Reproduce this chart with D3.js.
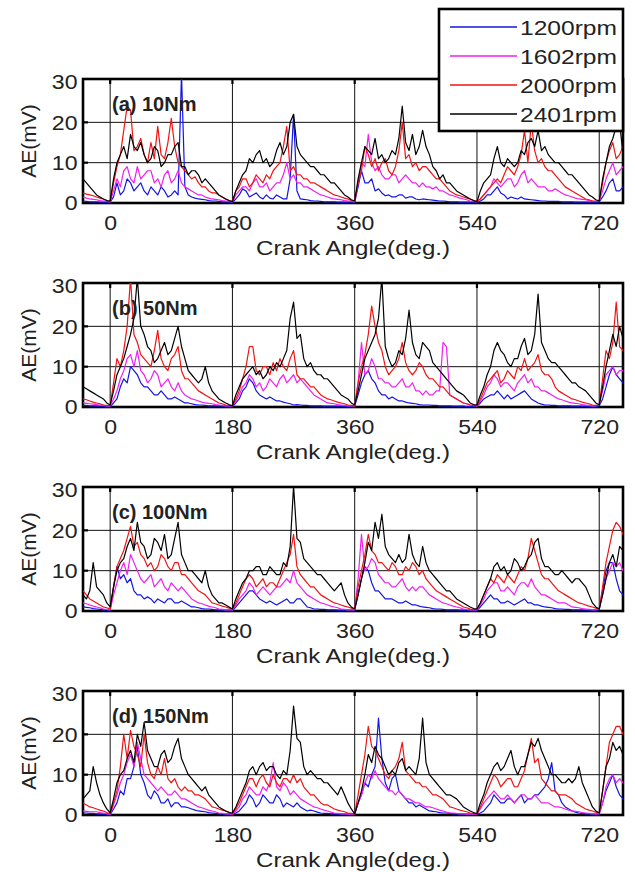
<!DOCTYPE html>
<html>
<head>
<meta charset="utf-8">
<script src="https://cdn.jsdelivr.net/npm/d3@7"></script>
<style>
  html, body { margin: 0; background: #fff; }
  svg { display: block; }
</style>
</head>
<body>
<svg id="chart" width="635" height="872"></svg>
<script>
'use strict';

/* ── data: AE amplitude (mV), sampled every 5 deg of crank angle ── */
const angles = [-40,-35,-30,-25,-20,-15,-10,-5,
  0,5,10,15,20,25,30,35,40,45,50,55,60,65,70,75,80,85,90,95,100,105,110,115,120,125,130,135,140,145,150,155,160,165,170,175,
  180,185,190,195,200,205,210,215,220,225,230,235,240,245,250,255,260,265,270,275,280,285,290,295,300,305,310,315,320,325,330,335,340,345,350,355,
  360,365,370,375,380,385,390,395,400,405,410,415,420,425,430,435,440,445,450,455,460,465,470,475,480,485,490,495,500,505,510,515,520,525,530,535,
  540,545,550,555,560,565,570,575,580,585,590,595,600,605,610,615,620,625,630,635,640,645,650,655,660,665,670,675,680,685,690,695,700,705,710,715,
  720,725,730,735,740,745,750,755,760];

const xTicks = [0, 180, 360, 540, 720];
const yTicks = [0, 10, 20, 30];
const panelLabels = ['(a) 10Nm', '(b) 50Nm', '(c) 100Nm', '(d) 150Nm'];
const speedLabels = ['1200rpm', '1602rpm', '2000rpm', '2401rpm'];

// (a) 10Nm
const a_1200 = [0.5,0.4,0.3,0.3,0.3,0.2,0.2,0.2,
  0.2,1.5,5,2,3,6,5,3,4,5,3,2,4,3,2,4,3,1.5,2,3,2,32,4,2,1.5,1.2,1,0.9,0.8,0.6,0.5,0.5,0.4,0.3,0.3,0.2,
  0.2,1,2,3.5,3,1.5,2,2.5,1.5,1,2,1.2,1,2,1.5,1,1,6,22,3,1,0.9,0.8,0.6,0.5,0.5,0.4,0.3,0.3,0.3,0.3,0.2,0.2,0.2,0.2,0.2,
  0.2,4,8,5,5,6,3,3.5,2.5,1.8,2,1.5,1.5,2,2,1.2,1.5,1.5,1,0.8,1,0.9,0.8,0.7,0.6,0.5,0.5,0.4,0.3,0.3,0.3,0.2,0.2,0.2,0.2,0.2,
  0.2,0.5,1,2,2,3,4,2.5,2,1,1.5,1.2,1,1.5,1,0.9,0.8,0.7,0.6,0.5,0.5,0.4,0.4,0.4,0.4,0.3,0.3,0.3,0.3,0.2,0.2,0.2,0.2,0.2,0.2,0.2,
  0.3,1.5,3,5,6,3,3,4,4];
const a_1602 = [1.5,1.2,1,0.9,0.8,0.6,0.5,0.4,
  0.3,3,6,4,8,9,6,5,9,6,7,8,8,5,6,4,7,8,5,6,8,5,4,3.5,3,2.5,2,2,1.5,1.2,1,0.9,0.8,0.6,0.5,0.4,
  0.3,2,3,4,4,3,5,6,4,4,5,3,4,5,5,7,10,6,7,5,5,4,4,3.5,3,2.5,2,1.8,1.5,1.2,1,0.9,0.8,0.6,0.5,0.4,
  0.3,5,10,9,17,10,8,9,7,6,6,7,7,5,6,7,6,5,5,4,5,4,4,3.5,4,3,3,2.5,2,1.8,1.5,1.2,1,0.8,0.5,0.4,
  0.3,1,2,3,4,6,5,4,5,6,6,4,5,7,8,5,6,5,4,4,4,3,3,3.5,3,2.5,2,1.8,1.5,1.2,1,0.9,0.8,0.6,0.5,0.4,
  0.5,3,6,8,10,7,8,9,9];
const a_2000 = [2.5,2.2,2,1.8,1.5,1.2,1,0.6,
  0.3,5,9,12,18,24,23,13,14,16,12,10,15,11,19,12,11,15,21,14,10,9,8,7,6,6.5,5,4,4,3,2.5,2.5,2,1.5,1,0.6,
  0.5,3,4,6,6,4,5,7,6,5,7,6,8,9,10,14,19,8,9,7,7,6,6,5,5,4.5,4,3.5,3,2.5,2,1.8,1.5,1.2,1,0.6,
  0.5,5,8,14,12,9,11,8,10,11,8,7,9,13,20,11,12,9,10,8,9,9,8,7,6,6,5,4,3,2.5,2,1.8,1.5,1.2,1,0.6,
  0.5,1,2,3,4,5,6,5,7,9,8,7,9,12,18,10,20,13,10,11,9,8,8,7,6,5,4,3.5,3,2.5,2,1.5,1,0.8,0.5,0.4,
  0.5,5,10,13,15,11,12,14,14];
const a_2401 = [6,5,4,3,2,1.5,1,0.6,
  0.5,6,10,12,14,11,17,14,13,15,12,10,11,14,13,9,10,12,12,14,15,9,9,7,8,8,7,5,6,5,4,3,2,1.5,1,0.6,
  0.3,3,5,7,8,11,10,12,13,10,11,9,10,13,15,12,14,20,22,14,12,11,10,9,9,8,7,7,6,5,5,4,3,2,1.5,0.8,
  0.5,6,10,14,13,12,16,11,12,10,11,13,12,16,24,15,13,17,12,14,18,14,12,9,8,6,7,5,5,4,3,2.5,2,1.5,1,0.6,
  0.3,3,5,6,7,11,14,10,9,11,10,9,10,13,12,15,16,14,18,13,14,12,11,10,10,9,8,7,7,6,5,4,3,2,1.5,0.8,
  0.5,6,10,14,16,19,20,12,18];

// (b) 50Nm
const b_1200 = [0.4,0.4,0.3,0.3,0.3,0.2,0.2,0.1,
  0.1,1,2,5,7,6,10,9,8,6,5,5,4,3,3,4,3,2,2,2.5,2,1.5,1,1,0.8,0.6,0.5,0.5,0.4,0.3,0.3,0.3,0.3,0.2,0.2,0.1,
  0.1,1,2,4,5,7,6,4,3,2.5,2,2.5,2,1.5,1.5,1.2,1,0.8,0.5,0.6,0.5,0.4,0.4,0.3,0.3,0.3,0.3,0.2,0.2,0.2,0.2,0.2,0.2,0.1,0.1,0.1,
  0.2,3,6,8,9,7,6,4,3,3,2,2.5,2,1.5,1.5,1.2,1,0.9,0.8,0.6,0.5,0.5,0.5,0.4,0.4,0.3,0.3,0.3,0.3,0.2,0.2,0.2,0.2,0.1,0.1,0.1,
  0.2,1,2,2.5,3,3,4,3,2,3,2,2.5,3,3.5,4,3,2,1.5,1,0.7,0.5,0.5,0.4,0.4,0.3,0.3,0.3,0.3,0.2,0.2,0.2,0.2,0.2,0.1,0.1,0.1,
  0.3,2,5,8,10,8,7,6,6];
const b_1602 = [1,0.9,0.8,0.7,0.6,0.5,0.4,0.3,
  0.3,2,4,7,9,12,13,10,14,9,8,6,7,9,8,5,6,7,5,4,6,4,3,2.5,2,1.8,1.5,1.2,1,0.9,0.8,0.6,0.5,0.4,0.3,0.3,
  0.3,1.5,3,5,6,8,7,5,6,4,5,7,6,5,7,8,6,7,8,6,7,6,5,4,3,2.5,2,1.5,1,0.9,0.8,0.6,0.5,0.4,0.3,0.3,
  0.3,6,16,8,9,12,10,7,7,6,6,5,5,6,7,5,5,6,4,4,3,4,3,3,4,4,16,15,3,2.5,2,1.5,1,0.8,0.5,0.4,
  0.3,1.5,3,5,6,8,7,5,6,6,5,4,6,7,8,6,7,5,5,4,4,3.5,3,2.5,2,1.8,1.5,1.2,1,0.9,0.8,0.6,0.5,0.4,0.3,0.3,
  0.5,4,8,9,10,8,9,9,9];
const b_2000 = [2,1.8,1.5,1.2,1,0.8,0.5,0.4,
  0.3,6,12,10,14,20,32,18,16,13,12,11,10,14,19,12,10,9,12,13,15,9,7,7,6,5,4,3.5,3,2.5,2,1.5,1,0.8,0.5,0.4,
  0.3,2,4,7,10,15,15,9,8,10,10,8,11,9,12,10,9,12,14,8,7,7,6,5,5,4,3,2.5,2,1.8,1.5,1.2,1,0.8,0.5,0.4,
  0.3,6,10,13,18,25,20,16,14,10,8,9,10,12,16,11,9,8,9,11,10,8,7,7,6,5,5,4,3,2.5,2,1.5,1,0.8,0.5,0.4,
  0.3,2,4,6,7,8,9,6,7,9,8,7,10,9,12,9,10,11,13,9,8,8,7,5,4,3.5,3,2.5,2,1.8,1.5,1.2,1,0.8,0.5,0.4,
  0.5,7,14,12,16,26,15,14,18];
const b_2401 = [5,4.5,4,3.5,3,2.5,2,1,
  0.5,4,8,10,12,15,18,22,32,20,18,15,14,11,12,14,16,13,14,17,20,15,12,9,8,7,6,7,10,6,4,3,2,1.5,1,0.6,
  0.3,3,5,7,8,9,10,8,9,7,8,10,9,11,10,12,14,22,26,17,18,12,10,11,9,8,8,7,7,6,5,4,3,2.5,2,1,
  0.5,4,8,12,14,16,18,22,32,15,12,10,11,14,13,17,24,16,13,12,16,15,14,11,10,9,8,7,6,5,4,3.5,3,2,1,0.6,
  0.5,3,5,8,10,14,16,14,13,11,10,12,12,15,17,13,14,18,28,16,14,12,11,11,10,9,8,7,6,6,5,4.5,4,3,2,1,
  0.5,5,10,14,18,15,20,17,16];

// (c) 100Nm
const c_1200 = [1,0.9,0.8,0.6,0.5,0.4,0.3,0.2,
  0.2,6,11,8,9,7,8,5,4,4,3,3.5,3,2,3,2.5,2,3,3,2,2,2.5,2,1.5,1,1,0.8,0.6,0.5,0.5,0.4,0.3,0.3,0.2,0.2,0.2,
  0.2,1,2,3,4,5,5,4,3,2.5,2,2.5,2,1.5,2,2.5,3,2,2,3,3,2,1,0.8,0.5,0.5,0.4,0.4,0.3,0.3,0.3,0.2,0.2,0.2,0.2,0.2,
  0.2,4,8,11,10,7,5,5,4,3,3,3,2.5,2,2,2.5,2,1.5,1.5,1.2,1,0.9,0.8,0.6,0.5,0.5,0.4,0.3,0.3,0.3,0.3,0.2,0.2,0.2,0.2,0.2,
  0.2,1,2,3,4,3,3,2,2,2.5,2,1.5,2,2.5,3,2,2,1.5,1.5,1.2,1,0.9,0.8,0.6,0.5,0.5,0.4,0.4,0.3,0.3,0.3,0.3,0.2,0.2,0.2,0.2,
  0.3,5,10,12,12,8,5,4,4];
const c_1602 = [2,1.8,1.5,1.2,1,0.8,0.5,0.4,
  0.3,4,7,10,12,9,14,12,10,8,7,8,9,6,7,8,6,5,7,6,5,6,5,4,3,2.5,2,1.8,1.5,1.2,1,0.8,0.5,0.4,0.3,0.3,
  0.3,1.5,3,4,5,7,6,4,5,6,5,4,5,6,6,7,8,7,10,7,6,5,4,3.5,3,2.5,2,1.8,1.5,1.2,1,0.8,0.5,0.4,0.3,0.3,
  0.3,8,19,10,11,13,12,9,8,7,7,6,6,7,8,6,5,6,5,6,6,5,4,3.5,3,2.5,2,1.8,1.5,1.2,1,0.8,0.5,0.4,0.3,0.3,
  0.3,1.5,3,5,6,7,7,5,5,6,5,4,6,7,7,6,8,6,5,4,4,3.5,3,2.5,2,2,2,1.5,1,0.9,0.8,0.6,0.5,0.4,0.3,0.3,
  0.5,4,8,10,12,11,12,10,10];
const c_2000 = [5,4,3,2.5,2,1.5,1,0.8,
  0.5,6,11,13,15,18,21,16,17,14,13,11,12,10,11,14,13,11,10,12,12,9,9,8,7,6,5,4.5,4,3,2,1.8,1.5,1.2,1,0.7,
  0.5,2,4,6,8,9,8,6,7,8,6,7,7,6,8,10,12,14,19,11,9,8,7,6,6,5,4,3.5,3,2.5,2,1.8,1.5,1.2,1,0.7,
  0.5,6,10,14,19,15,14,12,12,11,10,12,11,9,9,11,10,12,11,9,10,8,7,6,5,4.5,4,3.5,3,2.5,2,1.5,1,0.8,0.5,0.4,
  0.5,2,4,6,8,7,9,8,7,9,8,7,9,11,10,13,18,15,12,9,8,8,7,6,5,4.5,4,3.5,3,2.5,2,1.8,1.5,1.2,1,0.7,
  0.5,6,12,16,20,22,21,19,18];
const c_2401 = [4,3,5,12,6,5,4,2,
  1,6,10,12,13,16,18,15,22,17,16,13,14,18,17,15,19,13,14,18,22,14,12,10,10,9,8,7,10,6,4,3,2,2,1.5,1,
  0.5,3,5,7,8,10,10,11,11,9,9,11,10,9,9,12,11,16,31,18,17,13,12,11,10,9,9,8,7,6,5,6,7,4,2,1,
  0.5,4,8,12,17,15,22,18,24,16,14,13,12,14,12,13,19,14,12,11,16,12,10,9,8,7,6,5,5,4,3,2.5,2,1.5,1,0.6,
  0.5,2,4,6,8,11,12,10,11,9,10,13,12,10,11,13,14,17,18,13,11,11,10,9,9,10,9,8,7,8,8,7,6,4,2,1,
  0.5,4,8,12,14,11,16,15,14];

// (d) 150Nm
const d_1200 = [0.5,0.5,0.4,0.4,0.3,0.3,0.2,0.2,
  0.1,1.5,3,6,5,9,9,12,17,10,8,5,4,6,5,3,3,4,2,3,3,2,2,1.8,1.5,1.2,1,0.9,0.8,0.6,0.5,0.4,0.3,0.3,0.2,0.2,
  0.1,0.5,1,2,3,5,4,2,3,5,4,3,3,5,4,2,3,2.5,2,3,2,1.5,1,1.2,1,0.7,0.5,0.4,0.4,0.3,0.3,0.2,0.2,0.2,0.2,0.1,
  0.2,3,5,8,7,10,12,24,14,8,6,9,10,6,5,4,3,3,2,2.5,2,1.5,1,0.9,0.8,0.6,0.5,0.5,0.4,0.3,0.3,0.3,0.2,0.2,0.2,0.2,
  0.2,0.5,1,2,3,5,4,3,3,4,4,3,4,5,3,4,4,5,5,6,7,9,13,6,5,3,2,1.5,1,0.7,0.5,0.4,0.3,0.3,0.2,0.2,
  0.3,3,6,8,10,7,5,4,4];
const d_1602 = [1,0.9,0.8,0.8,0.8,0.6,0.5,0.3,
  0.2,2.5,5,8,10,13,15,12,18,14,10,9,8,7,6,7,6,5,5,6,5,4,4,3.5,3,2.5,2,1.8,1.5,1.2,1,0.8,0.5,0.4,0.3,0.3,
  0.2,1,2,4,5,7,6,5,5,7,6,8,13,7,6,8,7,5,6,5,4,3.5,3,2.5,2,1.8,1.5,1.2,1,0.7,0.5,0.4,0.3,0.3,0.2,0.2,
  0.2,3,5,8,10,9,11,9,8,7,6,6,5,6,5,4,4,3.5,3,3,2.5,2,2,1.8,1.5,1.2,1,0.7,0.5,0.5,0.4,0.3,0.3,0.2,0.2,0.2,
  0.2,1.5,3,4,5,6,5,4,4,5,4,3,4,5,5,4,4,5,4,3,3,3,2.5,2,2,1.8,1.5,1.2,1,0.9,0.8,0.6,0.5,0.4,0.3,0.3,
  0.3,3,7,9,10,8,9,8,8];
const d_2000 = [3,2.5,2,1.8,1.5,1.2,1,0.6,
  0.3,3,6,12,20,14,21,17,15,12,20,13,10,9,12,10,14,9,8,9,7,6,7,6,6,5,5,4.5,4,3,2,1.8,1.5,1.2,1,0.7,
  0.3,1.5,3,5,7,9,9,7,9,10,8,7,10,8,7,9,9,8,10,8,9,7,6,5,5,4,3,2.5,2.5,2,1.5,1.2,1,0.8,0.5,0.4,
  0.3,5,10,15,22,17,16,14,12,10,9,11,12,14,18,11,10,9,8,8,7,7,6,5,5,4.5,4,3,2,1.8,1.5,1.2,1,0.8,0.5,0.4,
  0.3,2,4,6,8,10,9,7,8,9,9,7,7,9,11,15,19,13,14,9,8,7,6,6,5,5,5,4.5,4,3,2.5,2,1.5,1.2,1,0.7,
  0.5,6,12,18,20,22,22,20,19];
const d_2401 = [4,5,6,12,8,5,3,1.5,
  0.5,4,8,10,11,14,16,13,20,17,23,16,14,12,12,15,16,13,14,17,19,14,12,10,9,8,7,6,7,5,4,3,2,1.5,1,0.6,
  0.5,2,4,6,8,11,12,10,12,13,11,12,12,10,9,11,10,16,27,19,18,12,10,11,10,9,9,8,8,7,6,5,7,5,3,1.5,
  0.3,3,6,10,15,13,17,15,14,12,10,11,10,13,14,11,12,11,10,14,24,13,10,9,8,7,6,5,5,4.5,4,3,2,1.5,1,0.6,
  0.3,3,5,8,10,12,13,11,12,14,16,12,10,12,12,15,18,17,19,16,14,12,10,10,9,8,8,9,8,9,12,8,6,4,2,1,
  0.5,6,12,14,18,16,17,15,15];

const panels = [
  [a_1200, a_1602, a_2000, a_2401],
  [b_1200, b_1602, b_2000, b_2401],
  [c_1200, c_1602, c_2000, c_2401],
  [d_1200, d_1602, d_2000, d_2401],
];

/* ── look ────────────────────────────────── */
const colors = ['#1414e6', '#f020f0', '#f01414', '#000000'];
const FONT = "'Liberation Sans', Arial, sans-serif";
const INK = '#222';

const L = 83, R = 623, TOP0 = 79, H = 124, STEP = 204;

const svg = d3.select('#chart');
const defs = svg.append('defs');

const x = d3.scaleLinear().domain([-40, 755]).range([L, R]);

panels.forEach((series, i) => {
  const top = TOP0 + i * STEP;
  const bot = top + H;
  const y = d3.scaleLinear().domain([0, 30.75]).range([bot, top]);
  const g = svg.append('g');

  defs.append('clipPath').attr('id', 'clip' + i)
    .append('rect').attr('x', L).attr('y', top).attr('width', R - L).attr('height', H);

  // grid
  g.selectAll('line.vg').data(xTicks).join('line').attr('class', 'vg')
    .attr('x1', d => x(d)).attr('x2', d => x(d))
    .attr('y1', top).attr('y2', bot)
    .attr('stroke', '#111').attr('stroke-width', 1);
  g.selectAll('line.hg').data(yTicks.filter(v => v > 0 && v < 30)).join('line').attr('class', 'hg')
    .attr('x1', L).attr('x2', R)
    .attr('y1', d => y(d)).attr('y2', d => y(d))
    .attr('stroke', '#111').attr('stroke-width', 1);

  // little inward ticks
  g.selectAll('line.tt').data(xTicks).join('line').attr('class', 'tt')
    .attr('x1', d => x(d)).attr('x2', d => x(d))
    .attr('y1', top).attr('y2', top + 5)
    .attr('stroke', '#000').attr('stroke-width', 2.2);
  g.selectAll('line.lt').data(yTicks.filter(v => v > 0 && v < 30)).join('line').attr('class', 'lt')
    .attr('x1', L).attr('x2', L + 5)
    .attr('y1', d => y(d)).attr('y2', d => y(d))
    .attr('stroke', '#000').attr('stroke-width', 2.2);

  // frame
  g.append('rect')
    .attr('x', L).attr('y', top).attr('width', R - L).attr('height', H)
    .attr('fill', 'none').attr('stroke', '#000').attr('stroke-width', 2.6);

  // traces
  const line = d3.line().x((d, j) => x(angles[j])).y(d => y(d));
  g.append('g').attr('clip-path', `url(#clip${i})`)
    .selectAll('path').data(series).join('path')
    .attr('d', line)
    .attr('fill', 'none')
    .attr('stroke', (d, k) => colors[k])
    .attr('stroke-width', 1.2)
    .attr('stroke-linejoin', 'round');

  // x axis
  const ax = g.append('g').attr('transform', `translate(0,${bot})`)
    .call(d3.axisBottom(x).tickValues(xTicks).tickSize(0).tickPadding(12));
  ax.select('.domain').remove();
  ax.selectAll('text')
    .attr('font-family', FONT).attr('font-size', 21).attr('fill', INK)
    .attr('transform', 'scale(1.1,1)');

  // y axis
  const ay = g.append('g').attr('transform', `translate(${L},0)`)
    .call(d3.axisLeft(y).tickValues(yTicks).tickSize(0).tickPadding(5));
  ay.select('.domain').remove();
  ay.selectAll('text')
    .attr('font-family', FONT).attr('font-size', 21).attr('fill', INK)
    .attr('transform', 'scale(1.1,1)');

  // axis titles
  g.append('text')
    .attr('x', (L + R) / 2).attr('y', bot + 52)
    .attr('text-anchor', 'middle')
    .attr('font-family', FONT).attr('font-size', 21).attr('fill', INK)
    .attr('textLength', 194).attr('lengthAdjust', 'spacingAndGlyphs')
    .text('Crank Angle(deg.)');
  g.append('text')
    .attr('transform', `translate(36,${(top + bot) / 2}) rotate(-90)`)
    .attr('text-anchor', 'middle')
    .attr('font-family', FONT).attr('font-size', 21).attr('fill', INK)
    .text('AE(mV)');

  // panel tag
  g.append('text')
    .attr('x', 112).attr('y', top + 32)
    .attr('font-family', FONT).attr('font-size', 20).attr('font-weight', 'bold')
    .attr('fill', INK)
    .text(panelLabels[i]);
});

/* ── legend ──────────────────────────────── */
const lg = svg.append('g');
lg.append('rect')
  .attr('x', 439).attr('y', 9).attr('width', 184).attr('height', 122)
  .attr('fill', '#fff').attr('stroke', '#000').attr('stroke-width', 2.6);
const lgY = d3.scalePoint().domain(speedLabels).range([27, 114]);
const item = lg.selectAll('g.item').data(speedLabels).join('g').attr('class', 'item');
item.append('line')
  .attr('x1', 450).attr('x2', 517)
  .attr('y1', d => lgY(d)).attr('y2', d => lgY(d))
  .attr('stroke', (d, k) => colors[k]).attr('stroke-width', 1.3);
item.append('text')
  .attr('x', 520).attr('y', d => lgY(d) + 8)
  .attr('font-family', FONT).attr('font-size', 21).attr('fill', INK)
  .attr('textLength', 97).attr('lengthAdjust', 'spacingAndGlyphs')
  .text(d => d);

// sanity check on hand-typed series lengths
const bad = panels.flat().filter(s => s.length !== angles.length).length;
if (bad) svg.append('text').attr('x', 10).attr('y', 20).attr('fill', 'red').text('length mismatch: ' + bad);
</script>
</body>
</html>
